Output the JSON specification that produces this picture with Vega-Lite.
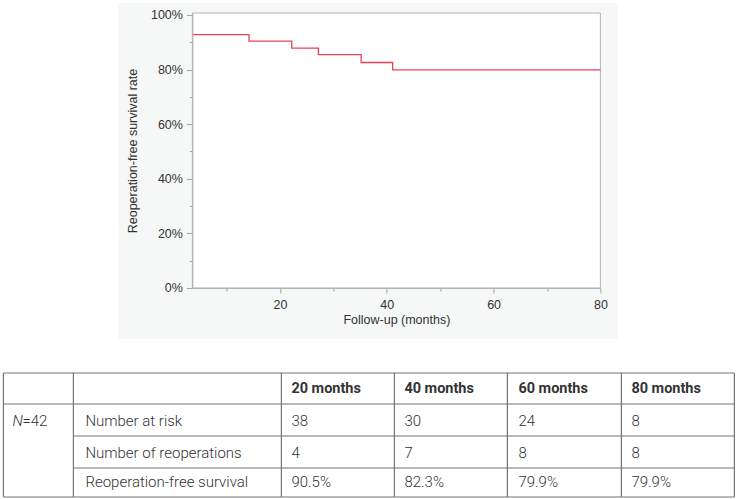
{
  "$schema": "https://vega.github.io/schema/vega-lite/v6.json",
  "padding": {"left": 2.4, "top": 2, "right": 2, "bottom": 2},
  "background": "white",
  "width": 408,
  "height": 275,
  "config": {
    "view": {"stroke": null},
    "font": "Liberation Sans",
    "axis": {
      "labelFont": "Liberation Sans",
      "labelFontSize": 12.5,
      "labelColor": "#333333",
      "titleFont": "Liberation Sans",
      "titleFontSize": 12.5,
      "titleFontWeight": "normal",
      "titleColor": "#333333",
      "domainColor": "#b3b3b3",
      "tickColor": "#a6a6a6",
      "grid": false
    }
  },
  "datasets": {
    "km": [
      {"month": 3.6, "survival": 0.928},
      {"month": 14.2, "survival": 0.904},
      {"month": 22.2, "survival": 0.879},
      {"month": 27.2, "survival": 0.855},
      {"month": 35.2, "survival": 0.826},
      {"month": 41.1, "survival": 0.799},
      {"month": 80, "survival": 0.799}
    ],
    "cells": [
      {"row": "header", "col": "20 months", "text": "20 months"},
      {"row": "header", "col": "40 months", "text": "40 months"},
      {"row": "header", "col": "60 months", "text": "60 months"},
      {"row": "header", "col": "80 months", "text": "80 months"},
      {"row": "Number at risk", "col": "group", "text": "N"},
      {"row": "Number at risk", "col": "groupEq", "text": "=42"},
      {"row": "Number at risk", "col": "label", "text": "Number at risk"},
      {"row": "Number at risk", "col": "20 months", "text": "38"},
      {"row": "Number at risk", "col": "40 months", "text": "30"},
      {"row": "Number at risk", "col": "60 months", "text": "24"},
      {"row": "Number at risk", "col": "80 months", "text": "8"},
      {"row": "Number of reoperations", "col": "label", "text": "Number of reoperations"},
      {"row": "Number of reoperations", "col": "20 months", "text": "4"},
      {"row": "Number of reoperations", "col": "40 months", "text": "7"},
      {"row": "Number of reoperations", "col": "60 months", "text": "8"},
      {"row": "Number of reoperations", "col": "80 months", "text": "8"},
      {"row": "Reoperation-free survival", "col": "label", "text": "Reoperation-free survival"},
      {"row": "Reoperation-free survival", "col": "20 months", "text": "90.5%"},
      {"row": "Reoperation-free survival", "col": "40 months", "text": "82.3%"},
      {"row": "Reoperation-free survival", "col": "60 months", "text": "79.9%"},
      {"row": "Reoperation-free survival", "col": "80 months", "text": "79.9%"}
    ],
    "colpos": [
      {"col": "group", "tx": 9},
      {"col": "groupEq", "tx": 19},
      {"col": "label", "tx": 82},
      {"col": "20 months", "tx": 288},
      {"col": "40 months", "tx": 401},
      {"col": "60 months", "tx": 515},
      {"col": "80 months", "tx": 628}
    ],
    "rowpos": [
      {"row": "header", "ty": 16.5},
      {"row": "Number at risk", "ty": 48.5},
      {"row": "Number of reoperations", "ty": 80},
      {"row": "Reoperation-free survival", "ty": 109.5}
    ],
    "grid_v": [
      {"gx": 0}, {"gx": 70}, {"gx": 278}, {"gx": 391}, {"gx": 504}, {"gx": 618}, {"gx": 731}
    ],
    "grid_h": [
      {"gy": 0, "gx0": 0},
      {"gy": 31, "gx0": 0},
      {"gy": 63, "gx0": 70},
      {"gy": 95, "gx0": 70},
      {"gy": 124, "gx0": 0}
    ]
  },
  "resolve": {"scale": {"x": "independent", "y": "independent"}},
  "layer": [
    {
      "layer": [
        {
          "data": {"values": [{"panel": "background"}]},
          "mark": {"type": "rect", "fill": "#f6f7f7", "clip": false},
          "encoding": {
            "x": {"datum": -10.26, "type": "quantitative", "scale": {"domain": [3.6, 80], "nice": false, "zero": false},
              "axis": {
                "title": "Follow-up (months)",
                "values": [10, 20, 30, 40, 50, 60, 70, 80],
                "labelExpr": "datum.value % 20 === 0 ? datum.label : ''",
                "tickSize": {"condition": {"test": "datum.value % 20 === 0", "value": 5}, "value": 3},
                "labelFlush": false,
                "labelOverlap": false,
                "labelPadding": 6,
                "titlePadding": 2,
                "zindex": 1
              }},
            "x2": {"datum": 83.18},
            "y": {"datum": -0.187, "type": "quantitative", "scale": {"domain": [0, 1.0073], "nice": false, "zero": false},
              "axis": {
                "title": "Reoperation-free survival rate",
                "values": [0, 0.1, 0.2, 0.3, 0.4, 0.5, 0.6, 0.7, 0.8, 0.9, 1],
                "format": ".0%",
                "labelExpr": "round(datum.value * 10) % 2 === 0 ? datum.label : ''",
                "tickSize": {"condition": {"test": "round(datum.value * 10) % 2 === 0", "value": 6}, "value": 3},
                "labelOverlap": false,
                "labelPadding": 4,
                "titlePadding": 11,
                "zindex": 1
              }},
            "y2": {"datum": 1.044}
          }
        },
        {
          "data": {"values": [{"panel": "plot"}]},
          "mark": {"type": "rect", "fill": "white", "stroke": "#b3b3b3", "strokeWidth": 1, "clip": false},
          "encoding": {
            "x": {"datum": 3.6, "type": "quantitative", "scale": {"domain": [3.6, 80], "nice": false, "zero": false},
              "axis": {
                "title": "Follow-up (months)",
                "values": [10, 20, 30, 40, 50, 60, 70, 80],
                "labelExpr": "datum.value % 20 === 0 ? datum.label : ''",
                "tickSize": {"condition": {"test": "datum.value % 20 === 0", "value": 5}, "value": 3},
                "labelFlush": false,
                "labelOverlap": false,
                "labelPadding": 6,
                "titlePadding": 2,
                "zindex": 1
              }},
            "x2": {"datum": 80},
            "y": {"datum": 0, "type": "quantitative", "scale": {"domain": [0, 1.0073], "nice": false, "zero": false},
              "axis": {
                "title": "Reoperation-free survival rate",
                "values": [0, 0.1, 0.2, 0.3, 0.4, 0.5, 0.6, 0.7, 0.8, 0.9, 1],
                "format": ".0%",
                "labelExpr": "round(datum.value * 10) % 2 === 0 ? datum.label : ''",
                "tickSize": {"condition": {"test": "round(datum.value * 10) % 2 === 0", "value": 6}, "value": 3},
                "labelOverlap": false,
                "labelPadding": 4,
                "titlePadding": 11,
                "zindex": 1
              }},
            "y2": {"datum": 1.0073}
          }
        },
        {
          "data": {"name": "km"},
          "mark": {"type": "line", "interpolate": "step-after", "color": "#ee3f59", "strokeWidth": 1.3},
          "encoding": {
            "x": {
              "field": "month", "type": "quantitative",
              "scale": {"domain": [3.6, 80], "nice": false, "zero": false},
              "axis": {
                "title": "Follow-up (months)",
                "values": [10, 20, 30, 40, 50, 60, 70, 80],
                "labelExpr": "datum.value % 20 === 0 ? datum.label : ''",
                "tickSize": {"condition": {"test": "datum.value % 20 === 0", "value": 5}, "value": 3},
                "labelFlush": false,
                "labelOverlap": false,
                "labelPadding": 6,
                "titlePadding": 2,
                "zindex": 1
              }
            },
            "y": {
              "field": "survival", "type": "quantitative",
              "scale": {"domain": [0, 1.0073], "nice": false, "zero": false},
              "axis": {
                "title": "Reoperation-free survival rate",
                "values": [0, 0.1, 0.2, 0.3, 0.4, 0.5, 0.6, 0.7, 0.8, 0.9, 1],
                "format": ".0%",
                "labelExpr": "round(datum.value * 10) % 2 === 0 ? datum.label : ''",
                "tickSize": {"condition": {"test": "round(datum.value * 10) % 2 === 0", "value": 6}, "value": 3},
                "labelOverlap": false,
                "labelPadding": 4,
                "titlePadding": 11,
                "zindex": 1
              }
            }
          }
        }
      ]
    },
    {
      "layer": [
        {
          "data": {"name": "grid_v"},
          "mark": {"type": "rule", "stroke": "#747474", "strokeWidth": 1.2, "clip": false},
          "encoding": {
            "x": {"field": "gx", "type": "quantitative", "scale": {"domain": [189, 597], "nice": false, "zero": false}, "axis": null},
            "y": {"datum": 0, "type": "quantitative", "scale": {"domain": [-360, -85], "nice": false, "zero": false, "reverse": true}, "axis": null},
            "y2": {"datum": 124}
          }
        },
        {
          "data": {"name": "grid_h"},
          "mark": {"type": "rule", "stroke": "#747474", "strokeWidth": 1.2, "clip": false},
          "encoding": {
            "x": {"field": "gx0", "type": "quantitative", "scale": {"domain": [189, 597], "nice": false, "zero": false}, "axis": null},
            "x2": {"datum": 731},
            "y": {"field": "gy", "type": "quantitative", "scale": {"domain": [-360, -85], "nice": false, "zero": false, "reverse": true}, "axis": null}
          }
        },
        {
          "data": {"name": "cells"},
          "transform": [
            {"lookup": "col", "from": {"data": {"name": "colpos"}, "key": "col", "fields": ["tx"]}},
            {"lookup": "row", "from": {"data": {"name": "rowpos"}, "key": "row", "fields": ["ty"]}},
            {"filter": "datum.row === 'header'"}
          ],
          "mark": {"type": "text", "align": "left", "baseline": "middle", "font": "Roboto", "fontSize": 14.5, "fontWeight": "bold", "fill": "#333333", "clip": false},
          "encoding": {
            "x": {"field": "tx", "type": "quantitative", "scale": {"domain": [189, 597], "nice": false, "zero": false}, "axis": null},
            "y": {"field": "ty", "type": "quantitative", "scale": {"domain": [-360, -85], "nice": false, "zero": false, "reverse": true}, "axis": null},
            "text": {"field": "text", "type": "nominal"}
          }
        },
        {
          "data": {"name": "cells"},
          "transform": [
            {"lookup": "col", "from": {"data": {"name": "colpos"}, "key": "col", "fields": ["tx"]}},
            {"lookup": "row", "from": {"data": {"name": "rowpos"}, "key": "row", "fields": ["ty"]}},
            {"filter": "datum.col === 'group'"}
          ],
          "mark": {"type": "text", "align": "left", "baseline": "middle", "font": "Roboto", "fontSize": 15, "fontWeight": 300, "fontStyle": "italic", "fill": "#333333", "clip": false},
          "encoding": {
            "x": {"field": "tx", "type": "quantitative", "scale": {"domain": [189, 597], "nice": false, "zero": false}, "axis": null},
            "y": {"field": "ty", "type": "quantitative", "scale": {"domain": [-360, -85], "nice": false, "zero": false, "reverse": true}, "axis": null},
            "text": {"field": "text", "type": "nominal"}
          }
        },
        {
          "data": {"name": "cells"},
          "transform": [
            {"lookup": "col", "from": {"data": {"name": "colpos"}, "key": "col", "fields": ["tx"]}},
            {"lookup": "row", "from": {"data": {"name": "rowpos"}, "key": "row", "fields": ["ty"]}},
            {"filter": "datum.row !== 'header' && datum.col !== 'group'"}
          ],
          "mark": {"type": "text", "align": "left", "baseline": "middle", "font": "Roboto", "fontSize": 15, "fontWeight": 300, "fill": "#333333", "clip": false},
          "encoding": {
            "x": {"field": "tx", "type": "quantitative", "scale": {"domain": [189, 597], "nice": false, "zero": false}, "axis": null},
            "y": {"field": "ty", "type": "quantitative", "scale": {"domain": [-360, -85], "nice": false, "zero": false, "reverse": true}, "axis": null},
            "text": {"field": "text", "type": "nominal"}
          }
        }
      ]
    }
  ]
}
